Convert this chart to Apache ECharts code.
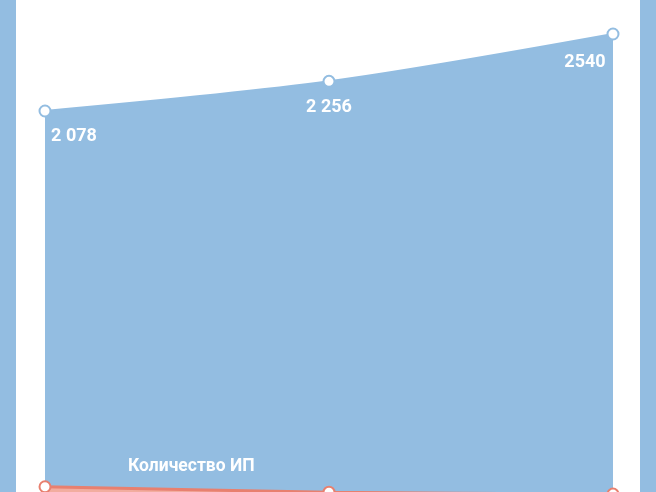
<!DOCTYPE html>
<html>
<head>
<meta charset="utf-8">
<script src="https://cdn.jsdelivr.net/npm/echarts@6/dist/echarts.min.js"></script>
<style>
  html, body { margin: 0; padding: 0; background: #93bde1; width: 656px; height: 492px; overflow: hidden; }
  #chart { position: absolute; left: 16px; top: 0; width: 624px; height: 492px; background: #fff; }
</style>
</head>
<body>
<div id="chart"></div>
<script>
// данные
const years = ['2019', '2020', '2021'];
const revenue = [2078, 2256, 2540];
const revenueLabels = ['2 078', '2 256', '2540'];
const ipCount = [76, 65, 61];
const ipName = 'Количество ИП';

const BLUE = '#93bde1';
const RED = '#e8806f';

const chart = echarts.init(document.getElementById('chart'));

// сдвиг подписей, чтобы не вылезали за края
const labelShift = [[29, 1], [0, 2], [-28, 4]];

const option = {
  animation: false,
  title: {
    text: ipName,
    left: 107,
    top: 453,
    textStyle: { color: '#fff', fontFamily: 'Roboto', fontWeight: 'bold', fontSize: 17.5 }
  },
  grid: { left: 29, right: 27, top: 34, height: 490, outerBoundsMode: 'none', containLabel: false },
  xAxis: {
    type: 'category',
    data: years,
    boundaryGap: false,
    show: false
  },
  yAxis: [
    { type: 'value', min: -400, max: 2540, show: false, splitLine: { show: false } },
    { type: 'value', min: 0, max: 1000, show: false, splitLine: { show: false } }
  ],
  series: [
    {
      name: 'Выручка',
      type: 'line',
      yAxisIndex: 0,
      smooth: 0.3,
      symbol: 'emptyCircle',
      symbolSize: 11,
      lineStyle: { color: BLUE, width: 2 },
      itemStyle: { color: BLUE, borderWidth: 3 },
      areaStyle: { color: BLUE, opacity: 1, origin: 'start' },
      label: {
        show: true,
        position: 'bottom',
        distance: 9,
        color: '#fff',
        fontFamily: 'Roboto',
        fontWeight: 'bold',
        fontSize: 18
      },
      data: revenue.map((v, i) => ({
        value: v,
        label: { offset: labelShift[i], formatter: revenueLabels[i] }
      }))
    },
    {
      name: ipName,
      type: 'line',
      yAxisIndex: 1,
      smooth: 0.3,
      symbol: 'emptyCircle',
      symbolSize: 11,
      z: 3,
      lineStyle: { color: RED, width: 3 },
      itemStyle: { color: RED, borderWidth: 3 },
      areaStyle: { color: '#f2ad9f', opacity: 1, origin: 'start' },
      data: ipCount
    }
  ]
};

chart.setOption(option);
</script>
</body>
</html>
